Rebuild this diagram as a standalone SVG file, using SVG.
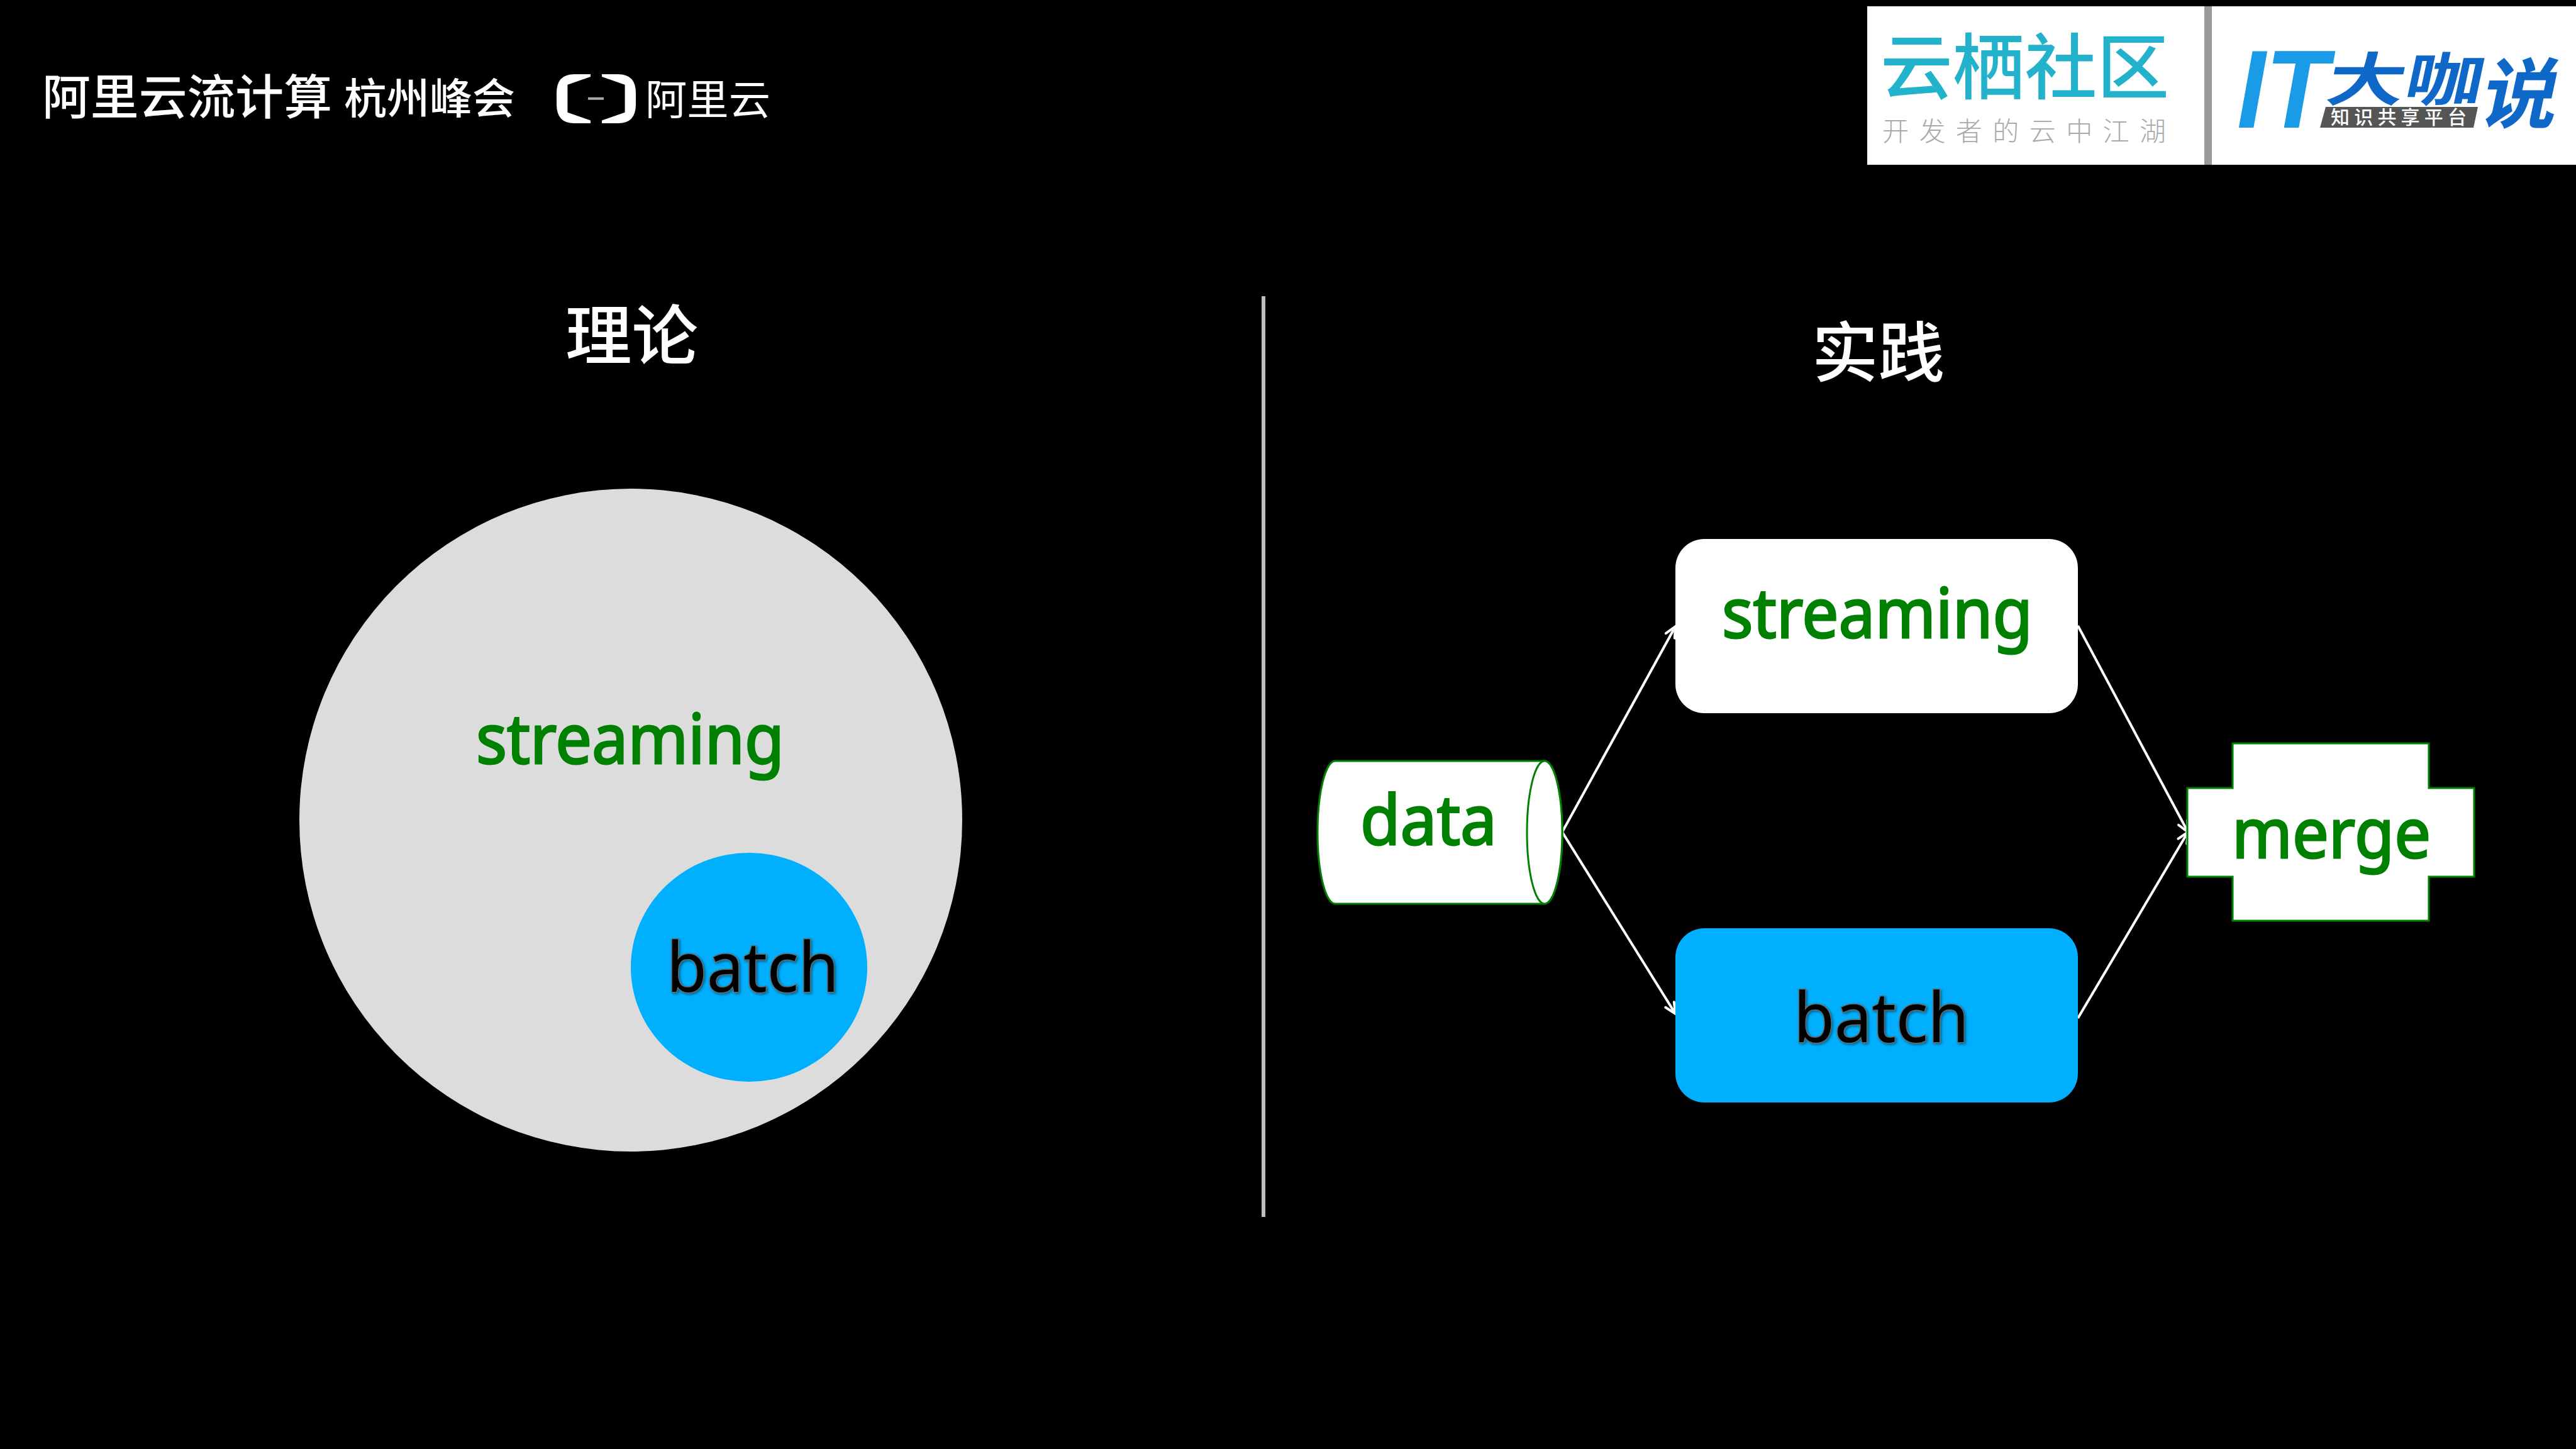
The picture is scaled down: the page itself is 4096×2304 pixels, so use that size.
<svg xmlns="http://www.w3.org/2000/svg" width="4096" height="2304" viewBox="0 0 4096 2304">
<defs>
<style>
.lat{font-family:"Noto Sans","Liberation Sans",sans-serif;font-size:110px}
.green{fill:#008000;stroke:#008000;stroke-width:3px}
.dark{fill:#000;stroke:#666;stroke-width:3px;paint-order:stroke;filter:url(#shadow)}
.cjk{font-family:"Noto Sans CJK SC",sans-serif;fill:#fff}
.box{fill:#fff;stroke:#008000;stroke-width:3px}
.conn{fill:none;stroke:#fff;stroke-width:4px;marker-end:url(#arrow)}
</style>
<filter id="shadow" x="-10%" y="-10%" width="120%" height="120%"><feDropShadow dx="2" dy="2" stdDeviation="2" flood-color="#000" flood-opacity="0.45"/></filter>
<marker id="arrow" markerUnits="userSpaceOnUse" markerWidth="40" markerHeight="40" refX="30" refY="20" orient="auto">
<path d="M13,12L30,20L13,28" fill="none" stroke="#fff" stroke-width="4" stroke-linecap="round"/>
</marker>
</defs>
<rect width="4096" height="2304" fill="#000"/>
<g id="header">
<text class="cjk" x="67" y="182" font-size="76" font-weight="500" textLength="461" lengthAdjust="spacingAndGlyphs">阿里云流计算</text>
<text class="cjk" x="547" y="181" font-size="67" font-weight="500" textLength="272" lengthAdjust="spacingAndGlyphs">杭州峰会</text>
<path fill="#fff" d="M939,118H913Q885,118 885,148V166Q885,196 913,196H939V191.500L902.400,178.700V134.700L939,122.100Z"/>
<path fill="#fff" d="M957,118H983Q1011,118 1011,148V166Q1011,196 983,196H957V191.500L993.600,178.700V134.700L957,122.100Z"/>
<rect x="935" y="154.700" width="25" height="4" fill="#aaa"/>
<text class="cjk" x="1026" y="182" font-size="66" font-weight="400" textLength="199" lengthAdjust="spacingAndGlyphs">阿里云</text>
</g>
<g id="logos">
<rect x="2969" y="10" width="1127" height="252" fill="#fff"/>
<rect x="3505" y="10" width="12" height="252" fill="#999"/>
<text x="2990" y="148" font-family="Noto Sans CJK SC,sans-serif" font-size="114" font-weight="500" fill="#23b2cc" textLength="459" lengthAdjust="spacingAndGlyphs">云栖社区</text>
<text x="2993" y="224" font-family="Noto Sans CJK SC,sans-serif" font-size="42" font-weight="300" fill="#aaa" textLength="451" lengthAdjust="spacing">开发者的云中江湖</text>
<text x="3557" y="203" font-family="Liberation Sans,sans-serif" font-size="176" font-weight="700" font-style="italic" fill="#1a9be8" textLength="145" lengthAdjust="spacingAndGlyphs">IT</text>
<text transform="translate(3695,160) skewX(-12) scale(1.15,0.85)" font-family="Noto Sans CJK SC,sans-serif" font-size="108" font-weight="700" fill="#0f68c8" textLength="216" lengthAdjust="spacingAndGlyphs">大咖</text>
<text transform="translate(3940,194) skewX(-12)" font-family="Noto Sans CJK SC,sans-serif" font-size="122" font-weight="700" fill="#0f68c8">说</text>
<polygon points="3698,170 3940,170 3933,203 3689,203" fill="#555"/>
<text x="3706" y="197" font-family="Noto Sans CJK SC,sans-serif" font-size="30" font-weight="500" fill="#fff" textLength="216" lengthAdjust="spacing">知识共享平台</text>
</g>
<g id="titles">
<text class="cjk" x="899" y="572" font-size="104" font-weight="500" textLength="211" lengthAdjust="spacingAndGlyphs">理论</text>
<text class="cjk" x="2881" y="599" font-size="104" font-weight="500" textLength="211" lengthAdjust="spacingAndGlyphs">实践</text>
</g>
<line id="divider" x1="2009" y1="471" x2="2009" y2="1935" stroke="#bfbfbf" stroke-width="6"/>
<g id="theory-streaming">
<circle cx="1003" cy="1304" r="527" fill="#dcdcdc"/>
<text class="lat green" x="757" y="1214" textLength="490" lengthAdjust="spacingAndGlyphs">streaming</text>
</g>
<g id="theory-batch">
<ellipse cx="1191" cy="1538" rx="188" ry="182" fill="#00b0ff"/>
<text class="lat dark" x="1060" y="1577" textLength="274" lengthAdjust="spacingAndGlyphs">batch</text>
</g>
<g id="connectors">
<path class="conn" d="M2484,1323L2664,996"/>
<path class="conn" d="M2484,1323L2664,1612"/>
<path class="conn" d="M3304,995L3479,1323"/>
<path class="conn" d="M3304,1619L3479,1323"/>
</g>
<g id="data">
<path class="box" d="M2123,1210H2456A28,113.500 0 0 1 2456,1437H2123A28,113.500 0 0 1 2123,1210Z"/>
<ellipse cx="2456" cy="1323.500" rx="28" ry="113.500" class="box"/>
<text class="lat green" x="2163" y="1343" textLength="217" lengthAdjust="spacingAndGlyphs">data</text>
</g>
<g id="streaming">
<rect x="2664" y="857" width="640" height="277" rx="46" fill="#fff"/>
<text class="lat green" x="2738" y="1014" textLength="494" lengthAdjust="spacingAndGlyphs">streaming</text>
</g>
<g id="batch">
<rect x="2664" y="1476" width="640" height="277" rx="46" fill="#00b0ff"/>
<text class="lat dark" x="2852" y="1657" textLength="279" lengthAdjust="spacingAndGlyphs">batch</text>
</g>
<g id="merge">
<path class="box" d="M3550,1182H3862V1253H3934V1394H3862V1464H3550V1394H3478V1253H3550Z"/>
<text class="lat green" x="3549" y="1364" textLength="316" lengthAdjust="spacingAndGlyphs">merge</text>
</g>
</svg>
